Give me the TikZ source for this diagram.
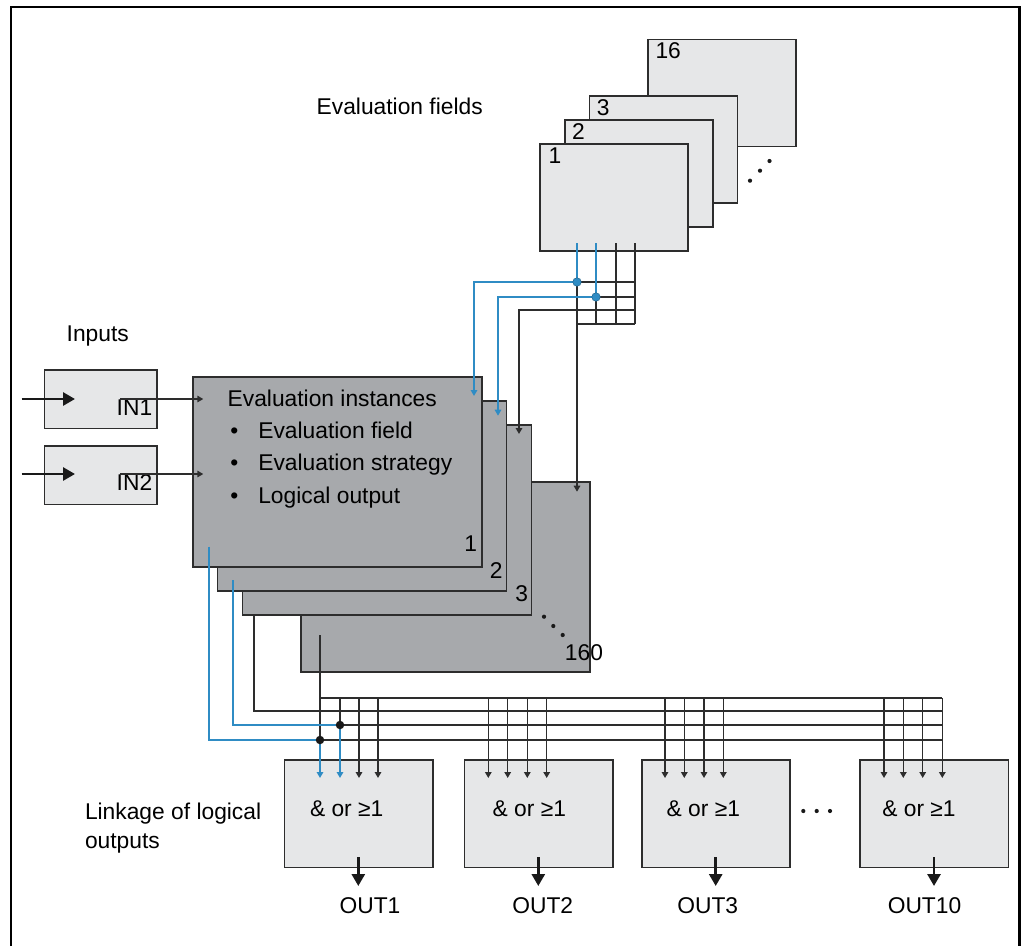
\documentclass[tikz,border=0pt]{standalone}
\usepackage{fontspec}
\setmainfont{Liberation Sans}
\usetikzlibrary{arrows.meta}
\definecolor{lightbox}{RGB}{230,231,232}
\definecolor{darkbox}{RGB}{167,169,172}
\definecolor{linkblue}{RGB}{47,140,196}
\definecolor{edge}{RGB}{45,45,45}
\begin{document}
\begin{tikzpicture}[x=1pt,y=-1pt,
  lbl/.style={font=\fontsize{22.8}{27}\selectfont, inner sep=0pt, outer sep=0pt, text=black},
  fieldbox/.style={draw=edge, line width=1.6pt, fill=lightbox, minimum width=148pt, minimum height=107pt, inner sep=0pt, outer sep=0pt, anchor=north west},
  instbox/.style={draw=edge, line width=1.6pt, fill=darkbox, minimum width=289pt, minimum height=190pt, inner sep=0pt, outer sep=0pt, anchor=north west},
  inbox/.style={draw=edge, line width=1.6pt, fill=lightbox, minimum width=112.4pt, minimum height=58.3pt, inner sep=0pt, outer sep=0pt, anchor=north west},
  outbox/.style={draw=edge, line width=1.6pt, fill=lightbox, minimum width=148.4pt, minimum height=107.3pt, inner sep=0pt, outer sep=0pt, anchor=north west},
  wire/.style={draw=edge, line width=1.5pt},
  bwire/.style={draw=linkblue, line width=1.6pt},
  tip/.style={-{Triangle[width=6.5pt,length=6pt]}},
  bigtip/.style={draw=black!90, line width=2.8pt, -{Triangle[width=13pt,length=12pt]}},
  bjdot/.style={circle, inner sep=0pt, minimum size=8.5pt, fill=linkblue, draw=linkblue!70!black, line width=0.5pt},
  kjdot/.style={circle, inner sep=0pt, minimum size=8.5pt, fill=black!90},
  sdot/.style={circle, inner sep=0pt, minimum size=4.2pt, fill=black!90},
]
\useasboundingbox (0,0) rectangle (1023,946);
% frame
\draw[line width=2.2pt, black] (11,946) -- (11,7) -- (1019.5,7) -- (1019.5,946);

% ---------- Evaluation fields ----------
\node[lbl, anchor=base west] (tfields) at (316.7,114.3) {Evaluation fields};
\node[fieldbox] (f16) at (648,39.3) {};
\node[fieldbox] (f3) at (589.3,96) {};
\node[fieldbox] (f2) at (564.7,120) {};
\node[fieldbox] (f1) at (540,144) {};
\node[lbl, anchor=base west] (n16) at (655.5,58.5) {16};
\node[lbl, anchor=base west] (n3) at (596.8,115.3) {3};
\node[lbl, anchor=base west] (n2) at (572.2,139.3) {2};
\node[lbl, anchor=base west] (n1) at (548.5,163.3) {1};
\node[sdot] (fd1) at (750,180.7) {};
\node[sdot] (fd2) at (760,170.7) {};
\node[sdot] (fd3) at (769.5,161) {};

% ---------- Inputs ----------
\node[lbl, anchor=base west] (tinputs) at (66.7,341.7) {Inputs};
\node[inbox] (in1) at (44.3,370) {};
\node[inbox] (in2) at (44.3,446) {};
\node[lbl, anchor=base west] (tin1) at (116.7,415) {IN1};
\node[lbl, anchor=base west] (tin2) at (116.7,490) {IN2};

% ---------- Evaluation instances ----------
\node[instbox] (i160) at (301,481.7) {};
\node[instbox] (i3) at (242.3,424.7) {};
\node[instbox] (i2) at (217.3,400.7) {};
\node[instbox] (i1) at (192.7,376.7) {};
\node[lbl, anchor=base west] (tinst) at (227.7,406) {Evaluation instances};
\node[lbl, anchor=base] (b1) at (234.3,438.3) {•};
\node[lbl, anchor=base] (b2) at (234.3,470) {•};
\node[lbl, anchor=base] (b3) at (234.3,503.3) {•};
\node[lbl, anchor=base west] (tb1) at (258.3,438.3) {Evaluation field};
\node[lbl, anchor=base west] (tb2) at (258.3,470) {Evaluation strategy};
\node[lbl, anchor=base west] (tb3) at (258.3,503.3) {Logical output};
\node[lbl, anchor=base east] (m1) at (477,551.7) {1};
\node[lbl, anchor=base east] (m2) at (502.5,578.3) {2};
\node[lbl, anchor=base east] (m3) at (528,601.7) {3};
\node[lbl, anchor=base east] (m160) at (603,660) {160};
\node[sdot] (id1) at (544,616.7) {};
\node[sdot] (id2) at (553.3,626) {};
\node[sdot] (id3) at (562.7,635) {};

% input arrows
\coordinate (in1s) at (120,399);
\coordinate (in2s) at (120,474);
\coordinate (in1e) at (203.3,399);
\coordinate (in2e) at (203.3,474);
\draw[wire, tip] (in1s) -- (in1e);
\draw[wire, tip] (in2s) -- (in2e);
\coordinate (x1s) at (21.7,399);
\coordinate (x1e) at (75,399);
\coordinate (x2s) at (21.7,474);
\coordinate (x2e) at (75,474);
\draw[bigtip] (x1s) -- (x1e);
\draw[bigtip] (x2s) -- (x2e);

% ---------- field -> instance grid ----------
\draw[wire] (577,282) -- (635,282);
\draw[wire] (577,297) -- (635,297);
\draw[wire] (577,324) -- (635,324);
\draw[wire] (616,243) -- (616,324);
\draw[wire] (635,243) -- (635,324);
\draw[wire] (596,297) -- (596,324);
\draw[wire, tip] (577,282) -- (577,491.7);
\draw[wire, tip] (635,310) -- (519,310) -- (519,434);
\draw[bwire, tip] (577,243) -- (577,282) -- (474,282) -- (474,396);
\draw[bwire, tip] (596,243) -- (596,297) -- (498,297) -- (498,415.7);
\node[bjdot] (j1) at (577,282) {};
\node[bjdot] (j2) at (596,297) {};

% ---------- instance -> output bus ----------
\draw[wire] (320,698) -- (942,698);
\draw[wire] (254,615.5) -- (254,711) -- (942,711);
\draw[wire] (320,725) -- (942,725);
\draw[wire] (320,740) -- (942,740);
\draw[wire] (320,635) -- (320,740);
\draw[wire] (340,698) -- (340,725);
\draw[bwire, tip] (320,740) -- (320,778);
\draw[bwire, tip] (340,725) -- (340,778);
\draw[bwire] (209,546.7) -- (209,740) -- (320,740);
\draw[bwire] (233,580) -- (233,725) -- (340,725);
\foreach \xx in {359,378, 488.3,507.7,527.3,546.7, 665,684.3,704,723.3, 884,903.3,922.7,942.3}
  \draw[wire, tip] (\xx,698) -- (\xx,778);
\node[kjdot] (k1) at (320,740) {};
\node[kjdot] (k2) at (340,725) {};

% ---------- outputs ----------
\node[outbox] (o1) at (284.3,760) {};
\node[outbox] (o2) at (464.3,760) {};
\node[outbox] (o3) at (641.7,760) {};
\node[outbox] (o10) at (860,760) {};
% arrow ends inside the boxes, drawn on top of them
\draw[bwire, tip] (320,759) -- (320,778);
\draw[bwire, tip] (340,759) -- (340,778);
\foreach \xx in {359,378, 488.3,507.7,527.3,546.7, 665,684.3,704,723.3, 884,903.3,922.7,942.3}
  \draw[wire, tip] (\xx,759) -- (\xx,778);
\node[lbl, anchor=base west] (g1) at (310,816.7) {\& or ≥1};
\node[lbl, anchor=base west] (g2) at (492.7,816.7) {\& or ≥1};
\node[lbl, anchor=base west] (g3) at (666.7,816.7) {\& or ≥1};
\node[lbl, anchor=base west] (g10) at (882.3,816.7) {\& or ≥1};
\node[sdot] (od1) at (803.3,811) {};
\node[sdot] (od2) at (816.7,811) {};
\node[sdot] (od3) at (830,811) {};
\coordinate (a1s) at (358.3,857.3);
\coordinate (a1e) at (358.3,886);
\coordinate (a2s) at (538.3,857.3);
\coordinate (a2e) at (538.3,886);
\coordinate (a3s) at (715.7,857.3);
\coordinate (a3e) at (715.7,886);
\coordinate (a10s) at (934,857.3);
\coordinate (a10e) at (934,886);
\draw[bigtip] (a1s) -- (a1e);
\draw[bigtip] (a2s) -- (a2e);
\draw[bigtip] (a3s) -- (a3e);
\draw[bigtip] (a10s) -- (a10e);
\node[lbl, anchor=base] (out1) at (370,913.3) {OUT1};
\node[lbl, anchor=base] (out2) at (542.7,913.3) {OUT2};
\node[lbl, anchor=base] (out3) at (707.7,913.3) {OUT3};
\node[lbl, anchor=base] (out10) at (924.5,913.3) {OUT10};
\node[lbl, anchor=base west] (tlink1) at (85,819) {Linkage of logical};
\node[lbl, anchor=base west] (tlink2) at (85,848) {outputs};
\end{tikzpicture}
\end{document}
